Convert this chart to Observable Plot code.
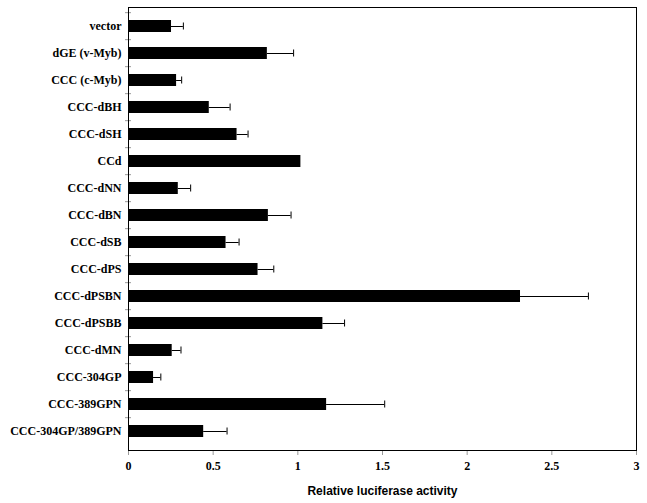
<!DOCTYPE html>
<html>
<head>
<meta charset="utf-8">
<script src="https://cdn.jsdelivr.net/npm/d3@7"></script>
<script src="https://cdn.jsdelivr.net/npm/@observablehq/plot@0.6"></script>
<style>
  html, body { margin: 0; padding: 0; background: #fff; }
  g[aria-label="x-axis label"] text { font-family: "Liberation Sans", Arial, sans-serif; font-size: 12px; font-weight: bold; }
</style>
</head>
<body>
<div id="chart"></div>
<script>
const categories = ["vector", "dGE (v-Myb)", "CCC (c-Myb)", "CCC-dBH", "CCC-dSH", "CCd", "CCC-dNN", "CCC-dBN", "CCC-dSB", "CCC-dPS", "CCC-dPSBN", "CCC-dPSBB", "CCC-dMN", "CCC-304GP", "CCC-389GPN", "CCC-304GP/389GPN"];
const values = [0.254, 0.82, 0.284, 0.477, 0.641, 1.018, 0.294, 0.826, 0.576, 0.765, 2.315, 1.148, 0.258, 0.148, 1.17, 0.444];
const errors = [0.07, 0.155, 0.03, 0.123, 0.065, null, 0.073, 0.134, 0.077, 0.093, 0.401, 0.128, 0.052, 0.043, 0.343, 0.138];
const xTicks = [0, 0.5, 1, 1.5, 2, 2.5, 3];

const data = categories.map((name, i) => ({name, value: values[i], err: errors[i]}));
const withErr = data.filter(d => d.err != null);

const W = 647, H = 503, mt = 7, mb = 53;
const step = (H - mt - mb) / categories.length;
const serif = "'Liberation Serif', 'Times New Roman', serif";

const chart = Plot.plot({
  width: W,
  height: H,
  marginLeft: 128,
  marginRight: 11,
  marginTop: mt,
  marginBottom: mb,
  style: {fontFamily: serif, fontSize: "12px", fontWeight: "bold", color: "black", background: "white"},
  x: {domain: [0, 3]},
  y: {domain: categories, paddingInner: 0.54, paddingOuter: 0.27, label: null},
  marks: [
    Plot.barX(data, {x: "value", y: "name", fill: "black"}),
    Plot.ruleY(withErr, {y: "name", x1: "value", x2: d => d.value + d.err, stroke: "black", strokeWidth: 1}),
    Plot.tickX(withErr, {x: d => d.value + d.err, y: "name", stroke: "black", strokeWidth: 1, insetTop: 2.5, insetBottom: 2.5}),
    Plot.axisY({ticks: categories, text: null, label: null, tickSize: 6, dx: 3, dy: -step / 2, stroke: "#999"}),
    Plot.axisY({ticks: categories, label: null, tickSize: 0, tickPadding: 7, fontSize: 12, fontWeight: "bold", fontFamily: serif}),
    Plot.axisX({ticks: xTicks, tickSize: 5, tickPadding: 6, stroke: "#999", fill: "black", fontFamily: serif, fontSize: 12, fontWeight: "bold",
      tickFormat: d => String(d),
      label: "Relative luciferase activity", labelAnchor: "center", labelArrow: "none", labelOffset: 44}),
    Plot.frame({stroke: "black", strokeWidth: 1})
  ]
});
document.getElementById("chart").appendChild(chart);
</script>
</body>
</html>
